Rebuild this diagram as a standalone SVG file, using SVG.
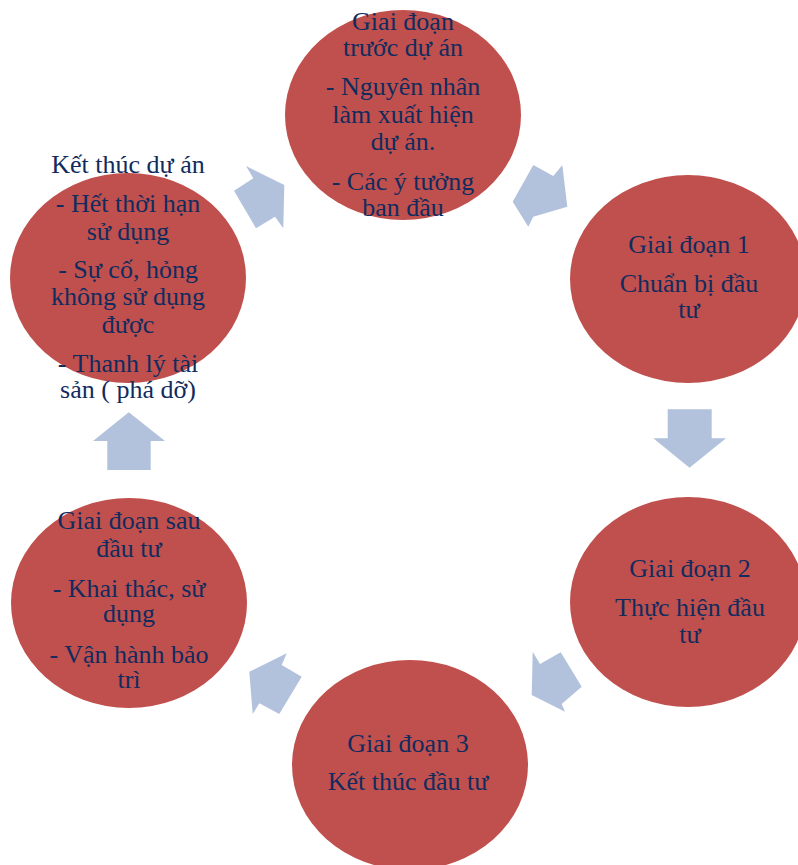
<svg xmlns="http://www.w3.org/2000/svg" width="798" height="865" viewBox="0 0 798 865">
  <style>
    .stage { fill: #C0504D; }
    .arrow { fill: #B2C2DC; }
    .label { font-family: "Liberation Serif", "Times New Roman", serif; font-size: 26px; fill: #112B5E; text-anchor: middle; }
  </style>
  <rect width="798" height="865" fill="#FFFFFF"/>

  <!-- cycle arrows between the stages -->
  <g id="connectors">
    <polygon class="arrow" points="246,166 284.3,185 283.3,228.3 275,216.7 256,228.3 234,190.7 253.3,178.3"/>
    <polygon class="arrow" points="533.3,165 553.3,176 562.3,165 567.3,206.7 533.3,216.7 528.3,226.7 512.7,201.7"/>
    <polygon class="arrow" points="667.7,409.3 711.7,409.3 711.7,438.3 726,438.3 689.5,467.7 653.3,438.3 667.7,438.3"/>
    <polygon class="arrow" points="532.7,651.7 540,664 560.7,652.3 581.7,686.7 561.7,704 565,711.7 531.7,695"/>
    <polygon class="arrow" points="286.7,653.3 281.7,665 301.7,676.7 279.3,714 259.3,703.3 252.7,714 249.3,671.7"/>
    <polygon class="arrow" points="128.8,412.3 165,441 150.7,441 150.7,470 107.3,470 107.3,441 93,441"/>
  </g>

  <!-- pre-project stage -->
  <g id="node-pre-project">
    <ellipse class="stage" cx="403" cy="115" rx="118" ry="105"/>
    <text class="label" x="403" y="30">Giai đoạn</text>
    <text class="label" x="403" y="56">trước dự án</text>
    <text class="label" x="403" y="95">- Nguyên nhân</text>
    <text class="label" x="403" y="123">làm xuất hiện</text>
    <text class="label" x="403" y="150">dự án.</text>
    <text class="label" x="403" y="190">- Các ý tưởng</text>
    <text class="label" x="403" y="216">ban đầu</text>
  </g>

  <!-- stage 1 -->
  <g id="node-stage-1">
    <ellipse class="stage" cx="688" cy="279" rx="118" ry="104"/>
    <text class="label" x="689" y="253">Giai đoạn 1</text>
    <text class="label" x="689" y="292">Chuẩn bị đầu</text>
    <text class="label" x="689" y="318">tư</text>
  </g>

  <!-- stage 2 -->
  <g id="node-stage-2">
    <ellipse class="stage" cx="688" cy="602" rx="118" ry="105"/>
    <text class="label" x="690" y="577">Giai đoạn 2</text>
    <text class="label" x="690" y="616">Thực hiện đầu</text>
    <text class="label" x="690" y="643">tư</text>
  </g>

  <!-- stage 3 -->
  <g id="node-stage-3">
    <ellipse class="stage" cx="410" cy="765" rx="118" ry="105"/>
    <text class="label" x="408" y="752">Giai đoạn 3</text>
    <text class="label" x="408" y="790">Kết thúc đầu tư</text>
  </g>

  <!-- post-investment stage -->
  <g id="node-post-investment">
    <ellipse class="stage" cx="129" cy="603" rx="118" ry="105"/>
    <text class="label" x="129" y="529">Giai đoạn sau</text>
    <text class="label" x="129" y="557">đầu tư</text>
    <text class="label" x="129" y="597">- Khai thác, sử</text>
    <text class="label" x="129" y="622">dụng</text>
    <text class="label" x="129" y="663">- Vận hành bảo</text>
    <text class="label" x="129" y="688">trì</text>
  </g>

  <!-- project end -->
  <g id="node-project-end">
    <ellipse class="stage" cx="128" cy="278" rx="118" ry="105"/>
    <text class="label" x="128" y="173">Kết thúc dự án</text>
    <text class="label" x="128" y="212">- Hết thời hạn</text>
    <text class="label" x="128" y="240">sử dụng</text>
    <text class="label" x="128" y="278">- Sự cố, hỏng</text>
    <text class="label" x="128" y="305">không sử dụng</text>
    <text class="label" x="128" y="333">được</text>
    <text class="label" x="128" y="372">- Thanh lý tài</text>
    <text class="label" x="128" y="398">sản ( phá dỡ)</text>
  </g>
</svg>
